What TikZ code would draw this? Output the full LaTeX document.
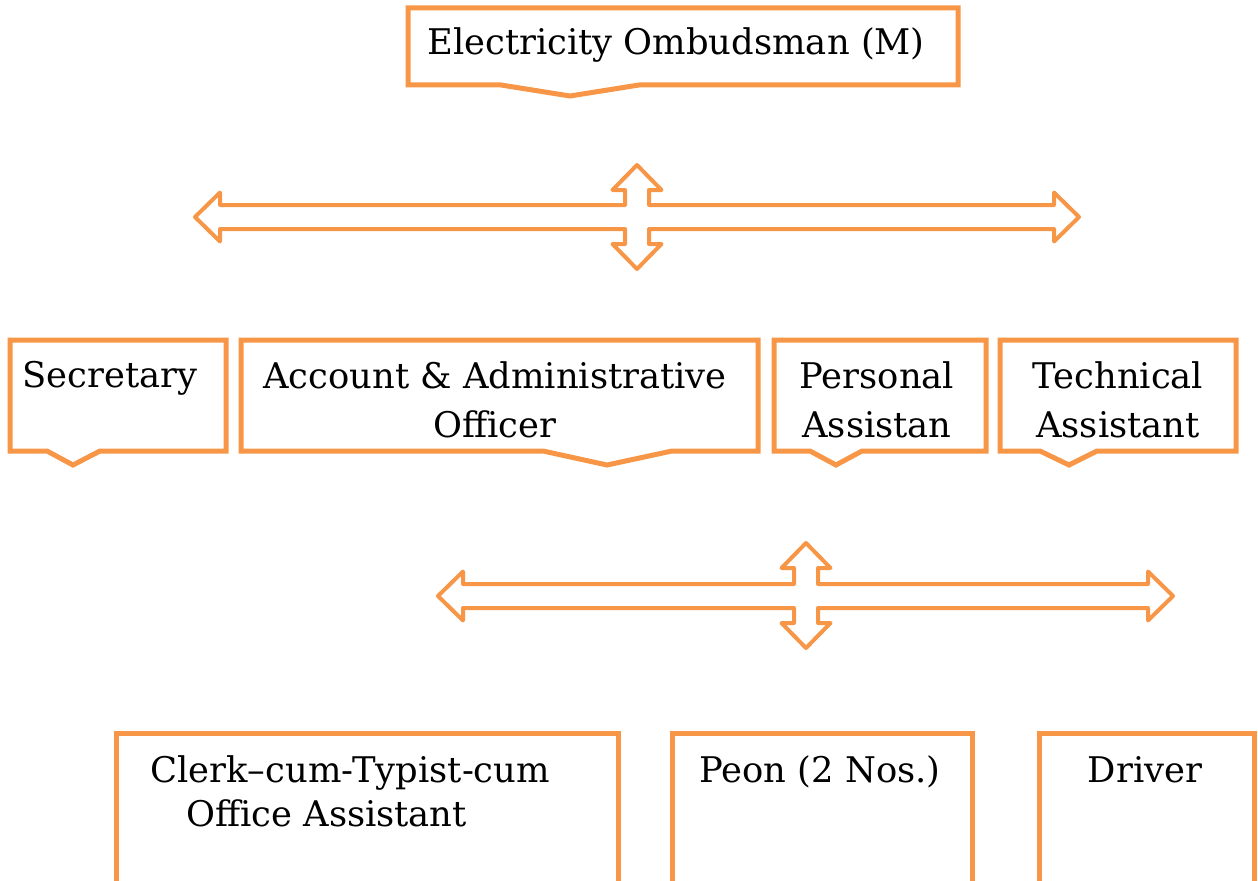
\documentclass[tikz,border=0pt]{standalone}
\usepackage{fontspec}
\setmainfont{DejaVu Serif}
\definecolor{accent}{HTML}{F79646}
\newcommand\quadarrowshape[6]{% cx cy left right top bottom
\draw[arr] (#3,#2) -- ({#3+25},{#2-24.5}) -- ({#3+25},{#2-12}) -- ({#1-12},{#2-12}) -- ({#1-12},{#5+25}) -- ({#1-24.5},{#5+25}) -- (#1,#5) -- ({#1+24.5},{#5+25}) -- ({#1+12},{#5+25}) -- ({#1+12},{#2-12}) -- ({#4-25},{#2-12}) -- ({#4-25},{#2-24.5}) -- (#4,#2) -- ({#4-25},{#2+24.5}) -- ({#4-25},{#2+12}) -- ({#1+12},{#2+12}) -- ({#1+12},{#6-25}) -- ({#1+24.5},{#6-25}) -- (#1,#6) -- ({#1-24.5},{#6-25}) -- ({#1-12},{#6-25}) -- ({#1-12},{#2+12}) -- ({#3+25},{#2+12}) -- ({#3+25},{#2+24.5}) -- cycle;}
\tikzset{
  arr/.style={draw=accent, line width=3pt, line join=round},
  boxline/.style={draw=accent, line width=3.75pt, line join=miter},
  lbl/.style={inner sep=0pt, font=\fontsize{26.5}{36.75}\selectfont, align=center, anchor=base},
  lblb/.style={inner sep=0pt, font=\fontsize{26.5}{33}\selectfont, anchor=base}
}
\begin{document}
\begin{tikzpicture}[x=0.75pt,y=-0.75pt]
\useasboundingbox (0,0) rectangle (1258,881);
% top callout
\draw[boxline] (408,8) -- (958,8) -- (958,85) -- (639,85) -- (570,96) -- (501,85) -- (408,85) -- cycle;
\node[lbl] (om) at (676,55) {Electricity Ombudsman (M)};
% arrows
\quadarrowshape{637}{217}{195}{1079}{165}{269}
\quadarrowshape{806}{596}{438}{1173}{543}{648}
% second row
\draw[boxline] (10,340) -- (226,340) -- (226,451) -- (100,451) -- (73,465) -- (47,451) -- (10,451) -- cycle;
\node[lbl] (sec) at (110,387) {Secretary};
\draw[boxline] (241,340) -- (758,340) -- (758,451) -- (672,451) -- (607,465) -- (543,451) -- (241,451) -- cycle;
\node[lbl] (acc) at (495,437) {Account \& Administrative\\Officer};
\draw[boxline] (774,340) -- (986,340) -- (986,451) -- (862,451) -- (836,465) -- (810,451) -- (774,451) -- cycle;
\node[lbl] (pa) at (877,437) {Personal\\Assistan};
\draw[boxline] (1000,340) -- (1236,340) -- (1236,451) -- (1097,451) -- (1069,465) -- (1040,451) -- (1000,451) -- cycle;
\node[lbl] (ta) at (1118,437) {Technical\\Assistant};
% bottom row
\draw[boxline] (116,895) -- (116,733) -- (618,733) -- (618,895);
\node[lblb, anchor=base west, align=left] (clerk) at (150,826) {Clerk–cum-Typist-cum\\\hspace*{27pt}Office Assistant};
\draw[boxline] (672,895) -- (672,733) -- (972,733) -- (972,895);
\node[lblb] (peon) at (820,782) {Peon (2 Nos.)};
\draw[boxline] (1039,895) -- (1039,733) -- (1254,733) -- (1254,895);
\node[lblb] (drv) at (1145,782) {Driver};
\end{tikzpicture}
\end{document}
